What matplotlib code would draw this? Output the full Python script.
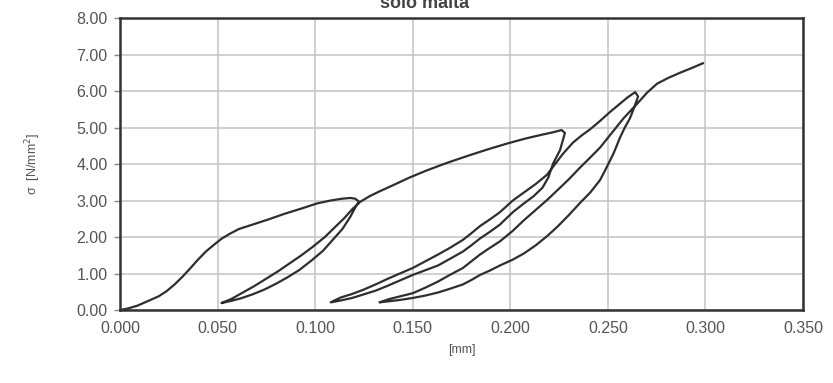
import numpy as np
import matplotlib.pyplot as plt

plt.rcParams['font.family'] = ['Liberation Sans', 'DejaVu Sans']

# displacement [mm] / stress [N/mm2], in path order
env1_x = [0.000, 0.004, 0.009, 0.015, 0.020, 0.024, 0.028, 0.032, 0.036, 0.040,
          0.044, 0.048, 0.052, 0.056, 0.061, 0.068, 0.076, 0.084, 0.093, 0.101,
          0.108, 0.114, 0.118, 0.1205, 0.1225]
env1_y = [0.00, 0.04, 0.12, 0.26, 0.38, 0.52, 0.70, 0.91, 1.14, 1.38,
          1.60, 1.78, 1.95, 2.08, 2.22, 2.34, 2.48, 2.63, 2.78, 2.92,
          3.00, 3.05, 3.07, 3.05, 2.97]

unl1_x = [0.1205, 0.118, 0.114, 0.109, 0.104, 0.098, 0.092, 0.086, 0.080,
          0.074, 0.068, 0.062, 0.057, 0.052]
unl1_y = [2.80, 2.55, 2.22, 1.92, 1.62, 1.35, 1.10, 0.90, 0.72,
          0.56, 0.43, 0.32, 0.25, 0.19]

rel1_x = [0.057, 0.063, 0.069, 0.075, 0.081, 0.087, 0.093, 0.099, 0.105, 0.110,
          0.115, 0.119, 0.123, 0.128, 0.133, 0.140, 0.148, 0.157, 0.167, 0.178,
          0.189, 0.199, 0.208, 0.216, 0.222, 0.2263, 0.228]
rel1_y = [0.30, 0.48, 0.66, 0.86, 1.06, 1.28, 1.50, 1.74, 2.00, 2.26,
          2.52, 2.76, 2.96, 3.12, 3.25, 3.42, 3.62, 3.82, 4.02, 4.22,
          4.41, 4.57, 4.70, 4.80, 4.87, 4.93, 4.85]

unl2_x = [0.2255, 0.222, 0.2195, 0.2165, 0.212, 0.2065, 0.2013, 0.1947, 0.1895,
          0.1845, 0.180, 0.1757, 0.169, 0.163, 0.156, 0.150, 0.143, 0.137,
          0.131, 0.1245, 0.119, 0.113, 0.108]
unl2_y = [4.38, 4.02, 3.63, 3.35, 3.12, 2.90, 2.68, 2.34, 2.14,
          1.96, 1.77, 1.60, 1.40, 1.22, 1.08, 0.96, 0.80, 0.66,
          0.53, 0.42, 0.33, 0.26, 0.21]

rel2_x = [0.113, 0.119, 0.1245, 0.131, 0.137, 0.143, 0.150, 0.156, 0.163, 0.169,
          0.1757, 0.180, 0.1845, 0.1895, 0.1947, 0.2013, 0.207, 0.213, 0.2187,
          0.223, 0.227, 0.232, 0.2365, 0.2409, 0.246, 0.251, 0.2555, 0.2600,
          0.2640, 0.2655]
rel2_y = [0.34, 0.44, 0.55, 0.70, 0.85, 0.99, 1.15, 1.32, 1.52, 1.70,
          1.92, 2.10, 2.30, 2.48, 2.68, 3.00, 3.22, 3.45, 3.70,
          4.00, 4.28, 4.58, 4.78, 4.95, 5.18, 5.42, 5.62, 5.82,
          5.97, 5.85]

unl3_x = [0.2635, 0.2613, 0.2585, 0.2562, 0.253, 0.2495, 0.246, 0.241, 0.2357,
          0.230, 0.2245, 0.219, 0.213, 0.207, 0.2013, 0.1947, 0.1895, 0.1845,
          0.180, 0.1757, 0.169, 0.163, 0.156, 0.150, 0.144, 0.138, 0.133]
unl3_y = [5.55, 5.25, 4.98, 4.72, 4.30, 3.92, 3.56, 3.22, 2.93,
          2.60, 2.30, 2.03, 1.77, 1.55, 1.38, 1.22, 1.08, 0.96,
          0.82, 0.70, 0.58, 0.48, 0.39, 0.33, 0.28, 0.24, 0.21]

rel3_x = [0.138, 0.144, 0.150, 0.156, 0.163, 0.169, 0.1757, 0.180, 0.1845,
          0.1895, 0.1947, 0.2013, 0.207, 0.213, 0.219, 0.2245, 0.230, 0.2357,
          0.241, 0.246, 0.2505, 0.2545, 0.258, 0.2615, 0.2650, 0.2700,
          0.2752, 0.281, 0.287, 0.293, 0.2987]
rel3_y = [0.30, 0.38, 0.46, 0.60, 0.78, 0.96, 1.15, 1.33, 1.52,
          1.70, 1.88, 2.17, 2.46, 2.74, 3.02, 3.30, 3.58, 3.90,
          4.18, 4.45, 4.75, 5.02, 5.25, 5.45, 5.65, 5.95,
          6.20, 6.36, 6.50, 6.63, 6.76]

x = np.concatenate([env1_x, unl1_x, rel1_x, unl2_x, rel2_x, unl3_x, rel3_x])
y = np.concatenate([env1_y, unl1_y, rel1_y, unl2_y, rel2_y, unl3_y, rel3_y])

xticks = np.arange(0, 0.351, 0.05)
yticks = np.arange(0, 8.01, 1.0)

fig = plt.figure(figsize=(8.33, 3.83), dpi=100)
ax = fig.add_axes([0.144, 0.1906, 0.820, 0.7624])

ax.plot(x, y, color='#2e2e2e', lw=1.6, solid_joinstyle='round')

ax.set_xlim(0, 0.35)
ax.set_ylim(0, 8)
ax.set_xticks(xticks)
ax.set_yticks(yticks)
ax.set_xticklabels(['%.3f' % v for v in xticks])
ax.set_yticklabels(['%.2f' % v for v in yticks])
ax.grid(True, color='#c4c4c4', lw=1.1)
ax.set_axisbelow(True)
for s in ax.spines.values():
    s.set_color('#333333')
    s.set_linewidth(1.8)
ax.tick_params(axis='y', length=4, width=1, color='#888888', pad=5,
               labelsize=11.5, labelcolor='#555555')
ax.tick_params(axis='x', length=0, pad=8, labelsize=11.5, labelcolor='#555555')

ax.set_xlabel('[mm]', fontsize=9, color='#555555', labelpad=6)
ax.set_ylabel('σ  [N/mm$^2$]', fontsize=9, color='#555555', labelpad=24)
# title sits half outside the top edge, as in the scan
fig.text(0.51, 0.992, 'solo malta', ha='center', va='center', fontsize=13,
         fontweight='bold', color='#444444')

fig.savefig('out.png', dpi=100)
